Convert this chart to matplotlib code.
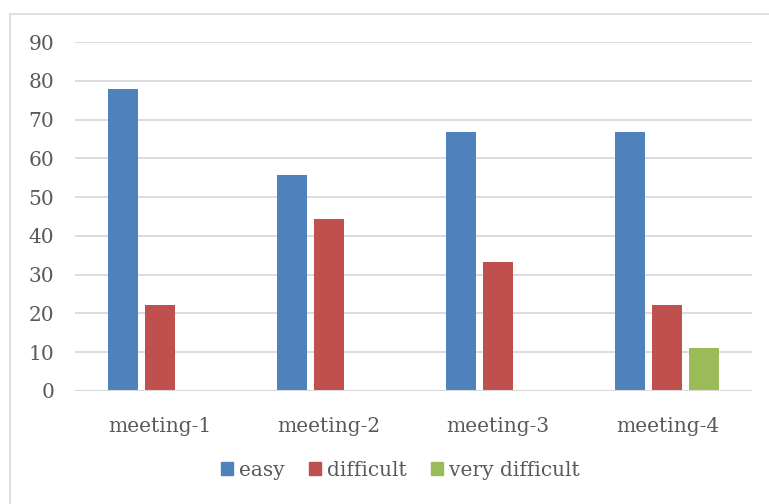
import numpy as np
import matplotlib
matplotlib.use('Agg')
import matplotlib.pyplot as plt
from matplotlib.patches import Rectangle
from matplotlib.lines import Line2D

# data
meetings = ['meeting-1', 'meeting-2', 'meeting-3', 'meeting-4']
easy = [77.8, 55.6, 66.7, 66.7]
difficult = [22.2, 44.4, 33.3, 22.2]
very_difficult = [0, 0, 0, 11.1]
series_names = ['easy', 'difficult', 'very difficult']
colors = ['#4f81bd', '#c0504d', '#9bbb59']
y_ticks = list(range(0, 100, 10))

plt.rcParams['font.family'] = ['DejaVu Serif']
text_color = '#595959'

fig = plt.figure(figsize=(7.69, 5.04), dpi=100)
ax = fig.add_axes([75 / 769, 1 - 391 / 504, (752 - 75) / 769, (391 - 42) / 504])

x = np.arange(len(meetings))
width = 30 / 169
step = 37 / 169
for i, (vals, c) in enumerate(zip([easy, difficult, very_difficult], colors)):
    v = np.array(vals, dtype=float)
    ax.bar(x + (i - 1) * step, v, width, color=c, label=series_names[i], zorder=3)

ax.set_xlim(-0.5, len(meetings) - 0.5)
ax.set_ylim(0, 90)
ax.set_yticks(y_ticks)
ax.set_xticks(x)
ax.set_xticklabels(meetings)
ax.grid(axis='y', color='#d9d9d9', lw=1.3, zorder=0)
ax.tick_params(length=0, labelsize=14.5, colors=text_color)
ax.tick_params(axis='y', pad=15)
ax.tick_params(axis='x', pad=19)
for s in ax.spines.values():
    s.set_visible(False)
ax.axhline(0, color='#d9d9d9', lw=1.5, zorder=4)

# chart border (top and left visible)
fig.add_artist(Line2D([10 / 769, 1.0], [1 - 13.5 / 504] * 2, color='#d9d9d9', lw=1.2))
fig.add_artist(Line2D([10 / 769, 10 / 769], [0, 1 - 13.5 / 504], color='#d9d9d9', lw=1.2))

handles = [Rectangle((0, 0), 1, 1, color=c) for c in colors]
fig.legend(handles, series_names, loc='center', bbox_to_anchor=(400 / 769, 1 - 470 / 504),
           ncol=3, frameon=False, fontsize=14.5, handlelength=0.6, handleheight=0.6,
           handletextpad=0.3, columnspacing=1.2, labelcolor=text_color)

fig.savefig('out.png', dpi=100)
